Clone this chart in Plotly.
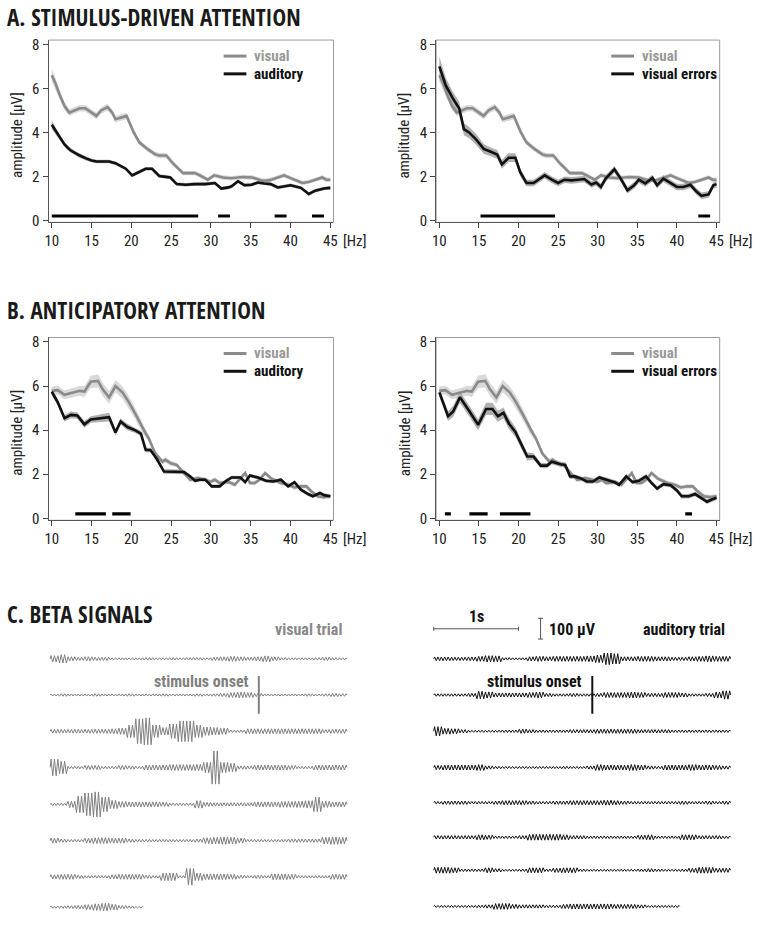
import plotly.graph_objects as go

W, H = 760, 926
FONT = "Roboto Condensed, Open Sans Condensed, sans-serif"
TITLE_FONT = "Open Sans Condensed, Roboto Condensed, sans-serif"
GRAY_LINE = "#8a8a8a"
BLACK_LINE = "#111111"
GRAY_BAND = "#d9d9d9"
BLACK_BAND = "#b0b0b0"

# ---------------- Panel A data ----------------
vis_A_f = [10, 10.5, 11, 11.6, 12.2, 12.8, 13.5, 14.2, 15, 15.6, 16.2, 17, 17.6, 18, 19.4, 20.3, 21, 22, 23, 23.5,
           24.4, 25.2, 26.5, 28, 28.6, 29.6, 30.4, 31.5, 32.5, 34, 35.2, 36.5, 37.3, 38.5, 39.2, 40, 41.5, 42.3,
           43.5, 44, 44.5, 45]
vis_A_v = [6.6, 6.2, 5.7, 5.2, 4.9, 5.0, 5.1, 5.1, 4.9, 4.75, 5.0, 5.15, 4.9, 4.6, 4.75, 4.0, 3.55, 3.25, 3.0, 2.95,
           2.95, 2.6, 2.15, 2.15, 2.05, 1.85, 2.05, 1.95, 1.92, 1.97, 1.95, 1.8, 1.82, 1.97, 2.05, 1.92, 1.7, 1.75,
           1.9, 1.95, 1.85, 1.85]
vis_A_se = [0.3, 0.25, 0.2, 0.18, 0.15, 0.15, 0.15, 0.15, 0.15, 0.15, 0.15, 0.15, 0.15, 0.15, 0.15, 0.15, 0.12, 0.12,
            0.12, 0.12, 0.12, 0.12, 0.1, 0.1, 0.1, 0.1, 0.1, 0.1, 0.1, 0.1, 0.1, 0.1, 0.1, 0.1, 0.1, 0.1, 0.1, 0.1,
            0.1, 0.1, 0.1, 0.1]

aud_A_f = [10, 10.5, 11, 11.6, 12.3, 13, 13.5, 14.3, 15, 15.6, 16.5, 17.2, 18, 18.5, 19.3, 20.1, 21, 21.8, 22.6, 23.5,
           24.3, 24.9, 25.7, 26.8, 28, 29.3, 30.5, 31.3, 32.2, 32.6, 33.4, 34.2, 35.1, 35.9, 36.7, 37.5, 38.4, 39.2,
           40, 41.3, 42.3, 43.1, 44.2, 45]
aud_A_v = [4.35, 4.05, 3.75, 3.45, 3.2, 3.05, 2.95, 2.82, 2.72, 2.68, 2.68, 2.68, 2.6, 2.5, 2.35, 2.05, 2.2, 2.35,
           2.35, 2.02, 1.98, 1.95, 1.65, 1.62, 1.65, 1.65, 1.7, 1.45, 1.5, 1.55, 1.78, 1.6, 1.62, 1.72, 1.68, 1.65,
           1.5, 1.55, 1.6, 1.48, 1.2, 1.35, 1.45, 1.48]
aud_A_se = [0.2, 0.15, 0.12, 0.1, 0.1, 0.1, 0.1, 0.1, 0.08, 0.08, 0.08, 0.08, 0.08, 0.08, 0.08, 0.08, 0.08, 0.08,
            0.08, 0.08, 0.08, 0.08, 0.08, 0.08, 0.08, 0.08, 0.08, 0.08, 0.08, 0.08, 0.08, 0.08, 0.08, 0.08, 0.08,
            0.08, 0.08, 0.08, 0.08, 0.08, 0.08, 0.08, 0.08, 0.08]

err_A_f = [10, 10.8, 11.7, 12.5, 13.1, 13.75, 14.6, 15.6, 16.5, 17.3, 17.9, 18.75, 19.6, 20.2, 21, 21.9, 22.5, 23.3,
           24.2, 25, 25.8, 26.7, 27.5, 28.3, 29.2, 29.8, 30.4, 31, 32.1, 32.9, 33.75, 34.6, 35.2, 36, 36.9, 37.5,
           38.3, 39.2, 40, 40.8, 41.7, 42.5, 43.1, 44, 44.6, 45]
err_A_v = [7.0, 6.15, 5.55, 5.1, 4.15, 4.0, 3.7, 3.25, 3.12, 3.0, 2.55, 2.85, 2.85, 2.2, 1.7, 1.7, 1.85, 2.05, 1.85,
           1.7, 1.85, 1.82, 1.85, 1.88, 1.63, 1.72, 1.52, 1.9, 2.32, 1.9, 1.37, 1.6, 1.85, 1.68, 1.93, 1.6, 1.9, 1.7,
           1.52, 1.52, 1.62, 1.3, 1.12, 1.18, 1.6, 1.65]
err_A_se = [0.45, 0.35, 0.3, 0.3, 0.28, 0.25, 0.25, 0.22, 0.2, 0.2, 0.2, 0.2, 0.2, 0.18, 0.15, 0.15, 0.15, 0.15,
            0.15, 0.15, 0.15, 0.15, 0.15, 0.15, 0.15, 0.15, 0.15, 0.15, 0.15, 0.15, 0.15, 0.15, 0.15, 0.15, 0.15,
            0.15, 0.15, 0.15, 0.15, 0.15, 0.15, 0.15, 0.15, 0.15, 0.15, 0.15]

# ---------------- Panel B data ----------------
vis_B_f = [10, 10.75, 11.6, 12.6, 13.5, 14.1, 14.9, 15.8, 16.4, 17.2, 18, 18.9, 19.7, 20.5, 21.4, 21.8, 22.2, 23,
           23.9, 24.3, 24.9, 25.7, 26.6, 27.4, 28.4, 29.3, 29.9, 30.5, 31.1, 32.2, 33, 33.8, 34.3, 34.9, 35.5, 36.1,
           36.8, 37.6, 38.2, 38.8, 39.7, 40.5, 41.3, 42, 42.6, 43.4, 44.2, 45]
vis_B_v = [5.78, 5.81, 5.6, 5.7, 5.78, 5.75, 6.19, 6.23, 5.85, 5.48, 6.0, 5.7, 5.26, 4.74, 4.07, 3.85, 3.62, 2.94,
           2.57, 2.65, 2.5, 2.42, 2.05, 1.75, 1.82, 1.75, 1.65, 1.75, 1.6, 1.65, 1.52, 1.85, 2.05, 1.6, 1.6, 1.75,
           2.05, 1.8, 1.7, 1.6, 1.52, 1.4, 1.45, 1.45, 1.23, 1.0, 0.96, 1.0]
vis_B_se = [0.2, 0.2, 0.2, 0.2, 0.22, 0.25, 0.28, 0.3, 0.3, 0.28, 0.28, 0.28, 0.28, 0.25, 0.2, 0.18, 0.15, 0.12,
            0.12, 0.12, 0.12, 0.1, 0.1, 0.1, 0.1, 0.1, 0.1, 0.1, 0.1, 0.1, 0.1, 0.1, 0.1, 0.1, 0.1, 0.1, 0.1, 0.1,
            0.1, 0.1, 0.1, 0.1, 0.1, 0.1, 0.1, 0.1, 0.1, 0.1]

aud_B_f = [10, 10.75, 11.6, 12.4, 13.2, 14.1, 14.9, 16, 17.2, 18, 18.65, 19.5, 20.5, 21.2, 21.8, 22.4, 23.2, 24.1,
           24.9, 25.7, 26.6, 27.4, 28, 28.6, 29.3, 30.1, 31.1, 31.8, 32.6, 33.7, 34.3, 34.9, 35.9, 36.9, 37.8, 38.8,
           39.7, 40.5, 41.3, 42.2, 42.8, 43.7, 44.2, 45]
aud_B_v = [5.74, 5.26, 4.54, 4.69, 4.66, 4.26, 4.48, 4.54, 4.59, 3.89, 4.39, 4.14, 3.99, 3.84, 3.1, 3.1, 2.69, 2.12,
           2.12, 2.1, 2.1, 1.9, 1.7, 1.75, 1.75, 1.45, 1.45, 1.67, 1.85, 1.85, 1.64, 1.94, 1.85, 1.7, 1.67, 1.75,
           1.45, 1.64, 1.3, 1.1, 1.0, 1.15, 1.05, 1.0]
aud_B_se = [0.15, 0.15, 0.15, 0.15, 0.15, 0.15, 0.15, 0.18, 0.2, 0.15, 0.15, 0.15, 0.12, 0.12, 0.1, 0.1, 0.1, 0.1,
            0.1, 0.1, 0.1, 0.08, 0.08, 0.08, 0.08, 0.08, 0.08, 0.08, 0.08, 0.08, 0.08, 0.08, 0.08, 0.08, 0.08, 0.08,
            0.08, 0.08, 0.08, 0.08, 0.08, 0.08, 0.08, 0.08]

err_B_f = [10, 11.1, 11.75, 12.6, 13.6, 14.9, 15.9, 16.7, 17.4, 18.1, 18.8, 19.6, 20.3, 21.1, 21.9, 22.8, 23.6, 24.2,
           25.3, 25.9, 26.5, 27.1, 28, 28.6, 29.4, 30.2, 31.3, 32.1, 32.7, 33.6, 34.4, 35.2, 36.1, 36.7, 37.5, 38.3,
           39.2, 40, 40.6, 41.5, 42.3, 43.1, 43.8, 44.4, 45]
err_B_v = [5.71, 4.63, 4.85, 5.49, 4.96, 4.24, 4.96, 4.96, 4.63, 4.78, 4.29, 3.92, 3.39, 2.8, 2.8, 2.39, 2.39, 2.57,
           2.45, 2.42, 1.9, 1.9, 1.79, 1.67, 1.67, 1.85, 1.73, 1.64, 1.52, 1.9, 1.64, 1.7, 1.9, 1.64, 1.35, 1.55,
           1.5, 1.26, 1.0, 1.0, 1.1, 0.93, 0.75, 0.85, 0.93]
err_B_se = [0.2, 0.22, 0.25, 0.25, 0.25, 0.25, 0.28, 0.28, 0.25, 0.25, 0.25, 0.22, 0.2, 0.18, 0.15, 0.12, 0.12,
            0.12, 0.12, 0.12, 0.12, 0.1, 0.1, 0.1, 0.1, 0.1, 0.1, 0.1, 0.1, 0.1, 0.1, 0.1, 0.1, 0.1, 0.1, 0.1, 0.1,
            0.1, 0.1, 0.1, 0.1, 0.1, 0.1, 0.1, 0.1]

# significance bars (start Hz, end Hz)
sig_A_left = [(10, 28.4), (30.9, 32.4), (38, 39.5), (42.7, 44.2)]
sig_A_right = [(15.2, 24.6), (42.7, 44.2)]
sig_B_left = [(12.95, 16.8), (17.6, 19.9)]
sig_B_right = [(10.7, 11.45), (13.8, 16.1), (17.65, 21.5), (41.05, 41.9)]
sig_level = 0.2

x_ticks = [10, 15, 20, 25, 30, 35, 40, 45]
y_ticks = [0, 2, 4, 6, 8]

# ---------------- Panel C data (beta envelopes, µV, per 0.1 s segment) ----------------
visual_env = [
    [15, 20, 10, 8, 10, 8, 8, 5, 5, 5, 5, 6, 5, 5, 6, 5, 6, 6, 5, 8, 10, 12, 10, 8, 10, 14, 10, 6, 5, 5, 5, 6, 8, 6, 5],
    [5, 6, 5, 5, 5, 6, 5, 5, 5, 6, 5, 5, 5, 6, 5, 5, 5, 6, 5, 6, 8, 12, 14, 12, 8, 5, 5, 5, 5, 5, 6, 5, 6, 8, 6],
    [9, 9, 9, 9, 9, 10, 10, 12, 15, 30, 60, 65, 30, 18, 35, 50, 50, 30, 20, 18, 15, 6, 6, 12, 12, 12, 12, 12, 12, 12, 12, 12, 8, 10, 10],
    [40, 30, 6, 6, 10, 10, 6, 6, 10, 8, 6, 12, 12, 12, 14, 14, 14, 15, 25, 80, 25, 20, 8, 8, 12, 12, 12, 12, 10, 6, 6, 12, 12, 12, 12],
    [6, 6, 15, 40, 55, 60, 35, 20, 14, 12, 12, 12, 12, 10, 6, 6, 6, 18, 10, 8, 8, 8, 8, 8, 12, 12, 12, 14, 14, 15, 18, 35, 15, 12, 12],
    [12, 8, 6, 6, 12, 14, 14, 12, 12, 8, 6, 6, 6, 6, 6, 6, 6, 8, 14, 16, 18, 16, 12, 6, 6, 6, 6, 6, 8, 8, 8, 8, 16, 18, 16],
    [10, 12, 12, 8, 6, 6, 6, 10, 12, 12, 12, 8, 6, 18, 18, 6, 40, 18, 14, 14, 14, 12, 8, 6, 8, 6, 14, 14, 12, 6, 6, 6, 6, 12, 12],
    [5, 6, 7, 8, 12, 16, 18, 14, 8, 6, 4],
]
auditory_env = [
    [9, 9, 8, 8, 9, 12, 15, 14, 6, 5, 5, 10, 12, 10, 12, 12, 12, 12, 14, 18, 28, 25, 10, 10, 12, 12, 10, 10, 8, 8, 10, 12, 14, 12, 12],
    [6, 6, 6, 6, 8, 18, 15, 10, 10, 10, 10, 12, 14, 8, 6, 6, 8, 6, 6, 8, 12, 12, 12, 14, 12, 8, 8, 12, 12, 10, 6, 6, 8, 14, 20],
    [22, 14, 12, 8, 5, 5, 5, 5, 6, 6, 10, 8, 6, 6, 6, 6, 8, 8, 8, 10, 10, 10, 10, 10, 8, 8, 8, 8, 6, 6, 6, 6, 6, 6, 6],
    [10, 12, 12, 12, 12, 14, 8, 6, 5, 5, 5, 5, 5, 5, 5, 6, 5, 5, 8, 14, 12, 12, 12, 14, 12, 8, 6, 12, 12, 12, 14, 12, 12, 10, 8],
    [6, 8, 8, 8, 6, 6, 6, 8, 10, 10, 10, 8, 6, 6, 8, 8, 10, 10, 10, 10, 12, 10, 8, 6, 6, 6, 6, 6, 6, 8, 6, 6, 8, 6, 8],
    [8, 8, 8, 8, 8, 12, 10, 6, 6, 6, 8, 14, 14, 14, 14, 12, 8, 8, 6, 6, 6, 6, 6, 6, 10, 12, 6, 6, 6, 12, 12, 8, 8, 8, 6],
    [14, 14, 12, 6, 6, 6, 12, 8, 5, 5, 6, 12, 12, 6, 10, 12, 12, 6, 5, 5, 5, 5, 5, 5, 6, 8, 6, 5, 5, 6, 10, 14, 14, 10, 10],
    [5, 5, 5, 5, 5, 6, 8, 14, 14, 10, 8, 8, 8, 6, 6, 10, 12, 12, 12, 12, 12, 10, 10, 10, 8, 5, 5, 5, 5],
]
seg_dur = 0.1          # s per envelope value
half_cycles = 5        # beta half-cycles per segment (25 Hz)
visual_onset_t = 2.46  # s from row start
auditory_onset_t = 1.87

# ---------------- layout helpers ----------------
def px(x):
    return x / W

def py(y):
    return 1 - y / H

def bold(s):
    return "<b>" + s + "</b>"

fig = go.Figure()

panels = [
    ("", (45, 333, 36.5, 221), [(vis_A_f, vis_A_v, vis_A_se, GRAY_LINE, GRAY_BAND),
                                (aud_A_f, aud_A_v, aud_A_se, BLACK_LINE, BLACK_BAND)], sig_A_left, "auditory"),
    ("2", (436.7, 723.3, 36.5, 221), [(vis_A_f, vis_A_v, vis_A_se, GRAY_LINE, GRAY_BAND),
                                      (err_A_f, err_A_v, err_A_se, BLACK_LINE, BLACK_BAND)], sig_A_right, "visual errors"),
    ("3", (45, 333, 337.5, 522.5), [(vis_B_f, vis_B_v, vis_B_se, GRAY_LINE, GRAY_BAND),
                                    (aud_B_f, aud_B_v, aud_B_se, BLACK_LINE, BLACK_BAND)], sig_B_left, "auditory"),
    ("4", (436.7, 723.3, 337.5, 522.5), [(vis_B_f, vis_B_v, vis_B_se, GRAY_LINE, GRAY_BAND),
                                         (err_B_f, err_B_v, err_B_se, BLACK_LINE, BLACK_BAND)], sig_B_right, "visual errors"),
]

shapes = []
annotations = []
layout_axes = {}

for suf, (l, r, t, b), series, sig, lab2 in panels:
    xa = "x" + suf
    ya = "y" + suf
    for f, v, se, lc, bc in series:
        lo = [a - s for a, s in zip(v, se)]
        hi = [a + s for a, s in zip(v, se)]
        fig.add_trace(go.Scatter(x=f + f[::-1], y=hi + lo[::-1], fill="toself", fillcolor=bc,
                                 line=dict(width=0), mode="lines", xaxis=xa, yaxis=ya,
                                 hoverinfo="skip", showlegend=False))
    for f, v, se, lc, bc in series:
        fig.add_trace(go.Scatter(x=f, y=v, mode="lines", line=dict(color=lc, width=2.6),
                                 xaxis=xa, yaxis=ya, showlegend=False))
    for s0, s1 in sig:
        fig.add_trace(go.Scatter(x=[s0, s1], y=[sig_level, sig_level], mode="lines",
                                 line=dict(color="#000000", width=3.2), xaxis=xa, yaxis=ya,
                                 showlegend=False))
    xkey = "xaxis" + suf
    ykey = "yaxis" + suf
    layout_axes[xkey] = dict(domain=[px(l), px(r)], range=[9.59, 45.4], anchor=ya,
                             tickvals=x_ticks, ticks="outside", ticklen=5, tickcolor="#444",
                             showline=True, linecolor="#555", linewidth=1, showgrid=False, zeroline=False,
                             tickfont=dict(family=FONT, size=15, color="#222"))
    layout_axes[ykey] = dict(domain=[py(b), py(t)], range=[-0.09, 8.2], anchor=xa,
                             tickvals=y_ticks, ticks="outside", ticklen=5, tickcolor="#444",
                             showline=True, linecolor="#555", linewidth=1, showgrid=False, zeroline=False,
                             tickfont=dict(family=FONT, size=15, color="#222"))
    shapes.append(dict(type="rect", xref=xa + " domain", yref=ya + " domain", x0=0, x1=1, y0=0, y1=1,
                       line=dict(color="#9a9a9a", width=1), layer="below"))
    ly1 = t + 16.2
    ly2 = t + 34.2
    for yy, col, txt in [(ly1, GRAY_LINE, "visual"), (ly2, BLACK_LINE, lab2)]:
        shapes.append(dict(type="line", xref="paper", yref="paper", x0=px(l + 177), x1=px(l + 200),
                           y0=py(yy), y1=py(yy), line=dict(color=col, width=3)))
        annotations.append(dict(text=bold(txt), xref="paper", yref="paper", x=px(l + 207), y=py(yy),
                                xanchor="left", yanchor="middle", showarrow=False, borderpad=0,
                                font=dict(family=FONT, size=15, color=("#999999" if col == GRAY_LINE else "#111111"))))
    annotations.append(dict(text="amplitude [µV]", xref="paper", yref="paper", x=px(l - 32), y=py((t + b) / 2 + 4),
                            textangle=-90, showarrow=False, xanchor="center", yanchor="middle",
                            font=dict(family=FONT, size=15, color="#222")))
    annotations.append(dict(text="[Hz]", xref="paper", yref="paper", x=px(r + 35), y=py(b + 19),
                            xanchor="right", yanchor="middle", showarrow=False,
                            font=dict(family=FONT, size=15, color="#222")))

# ---------------- Panel C ----------------
PX_PER_S = 85.7
UV_PER_PX = 100 / 21.0
C_TOP = 600
xrange_c = [0, W / PX_PER_S]
yrange_c = [0, (H - C_TOP) * UV_PER_PX]

def row_y(ypx):
    return (H - ypx) * UV_PER_PX

vis_start = 46.7 / PX_PER_S
aud_start = 434.3 / PX_PER_S
vis_rows_px = [662.7, 699.3, 736, 772.7, 810, 846.7, 883.3, 914]
aud_rows_px = [662.7, 699.3, 736, 772.7, 808.3, 843.3, 876.7, 913.3]

def trace_xy(env, t0, base):
    xs = [t0]
    ys = [base]
    dt = seg_dur / half_cycles
    n = 0
    for a in env:
        for k in range(half_cycles):
            xs.append(t0 + (n + 0.5) * dt)
            ys.append(base + (a if n % 2 == 0 else -a))
            n += 1
    xs.append(t0 + n * dt)
    ys.append(base)
    return xs, ys

for env, ypx in zip(visual_env, vis_rows_px):
    xs, ys = trace_xy(env, vis_start, row_y(ypx))
    fig.add_trace(go.Scatter(x=xs, y=ys, mode="lines", line=dict(color="#808080", width=1.0),
                             xaxis="x5", yaxis="y5", showlegend=False, hoverinfo="skip"))
for env, ypx in zip(auditory_env, aud_rows_px):
    xs, ys = trace_xy(env, aud_start, row_y(ypx))
    fig.add_trace(go.Scatter(x=xs, y=ys, mode="lines", line=dict(color="#111111", width=1.0),
                             xaxis="x5", yaxis="y5", showlegend=False, hoverinfo="skip"))

layout_axes["xaxis5"] = dict(domain=[0, 1], range=xrange_c, anchor="y5", visible=False)
layout_axes["yaxis5"] = dict(domain=[0, py(C_TOP)], range=yrange_c, anchor="x5", visible=False)

for t0, onset, ypx, col in [(vis_start, visual_onset_t, vis_rows_px[1], "#808080"),
                            (aud_start, auditory_onset_t, aud_rows_px[1], "#111111")]:
    xo = t0 + onset
    shapes.append(dict(type="line", xref="x5", yref="y5", x0=xo, x1=xo,
                       y0=row_y(ypx) - 90, y1=row_y(ypx) + 92, line=dict(color=col, width=2)))
    annotations.append(dict(text=bold("stimulus onset"), xref="x5", yref="y5", x=xo - 8 / PX_PER_S,
                            y=row_y(ypx) + 14 * UV_PER_PX, xanchor="right", yanchor="middle", showarrow=False,
                            font=dict(family=FONT, size=16, color=col)))

sb_y = row_y(632.3)
sb_x0 = aud_start
shapes.append(dict(type="line", xref="x5", yref="y5", x0=sb_x0, x1=sb_x0 + 1.0, y0=sb_y, y1=sb_y,
                   line=dict(color="#555", width=1)))
for xx in (sb_x0, sb_x0 + 1.0):
    shapes.append(dict(type="line", xref="x5", yref="y5", x0=xx, x1=xx, y0=sb_y - 2 * UV_PER_PX,
                       y1=sb_y + 2 * UV_PER_PX, line=dict(color="#555", width=1)))
annotations.append(dict(text=bold("1s"), xref="x5", yref="y5", x=sb_x0 + 0.5, y=row_y(620), showarrow=False,
                        xanchor="center", yanchor="middle", font=dict(family=FONT, size=16, color="#111")))
vb_x = 542.3 / PX_PER_S
vb_top = row_y(621.7)
shapes.append(dict(type="line", xref="x5", yref="y5", x0=vb_x, x1=vb_x, y0=vb_top - 100, y1=vb_top,
                   line=dict(color="#555", width=1)))
for yy in (vb_top - 100, vb_top):
    shapes.append(dict(type="line", xref="x5", yref="y5", x0=vb_x - 2.5 / PX_PER_S, x1=vb_x + 2.5 / PX_PER_S,
                       y0=yy, y1=yy, line=dict(color="#555", width=1)))
annotations.append(dict(text=bold("100 µV"), xref="x5", yref="y5", x=549 / PX_PER_S, y=row_y(633.3), showarrow=False,
                        xanchor="left", yanchor="middle", font=dict(family=FONT, size=16, color="#111")))
annotations.append(dict(text=bold("visual trial"), xref="paper", yref="paper", x=px(343.5), y=py(633), showarrow=False,
                        xanchor="right", yanchor="middle", font=dict(family=FONT, size=16, color="#888")))
annotations.append(dict(text=bold("auditory trial"), xref="paper", yref="paper", x=px(731), y=py(633), showarrow=False,
                        xanchor="right", yanchor="middle", font=dict(family=FONT, size=16, color="#111")))

for txt, yy in [("A. STIMULUS-DRIVEN ATTENTION", 13), ("B. ANTICIPATORY ATTENTION", 310), ("C. BETA SIGNALS", 617)]:
    annotations.append(dict(text=bold(txt), xref="paper", yref="paper", x=px(1), y=py(yy), showarrow=False,
                            xanchor="left", yanchor="middle",
                            font=dict(family=TITLE_FONT, size=23, color="#1a1a1a")))

fig.update_layout(width=W, height=H, margin=dict(l=0, r=0, t=0, b=0), paper_bgcolor="white",
                  plot_bgcolor="white", showlegend=False, shapes=shapes, annotations=annotations,
                  **layout_axes)

fig.write_html("out.html", config={"displayModeBar": False},
               post_script="document.body.style.margin='0';document.body.style.overflow='hidden';")
